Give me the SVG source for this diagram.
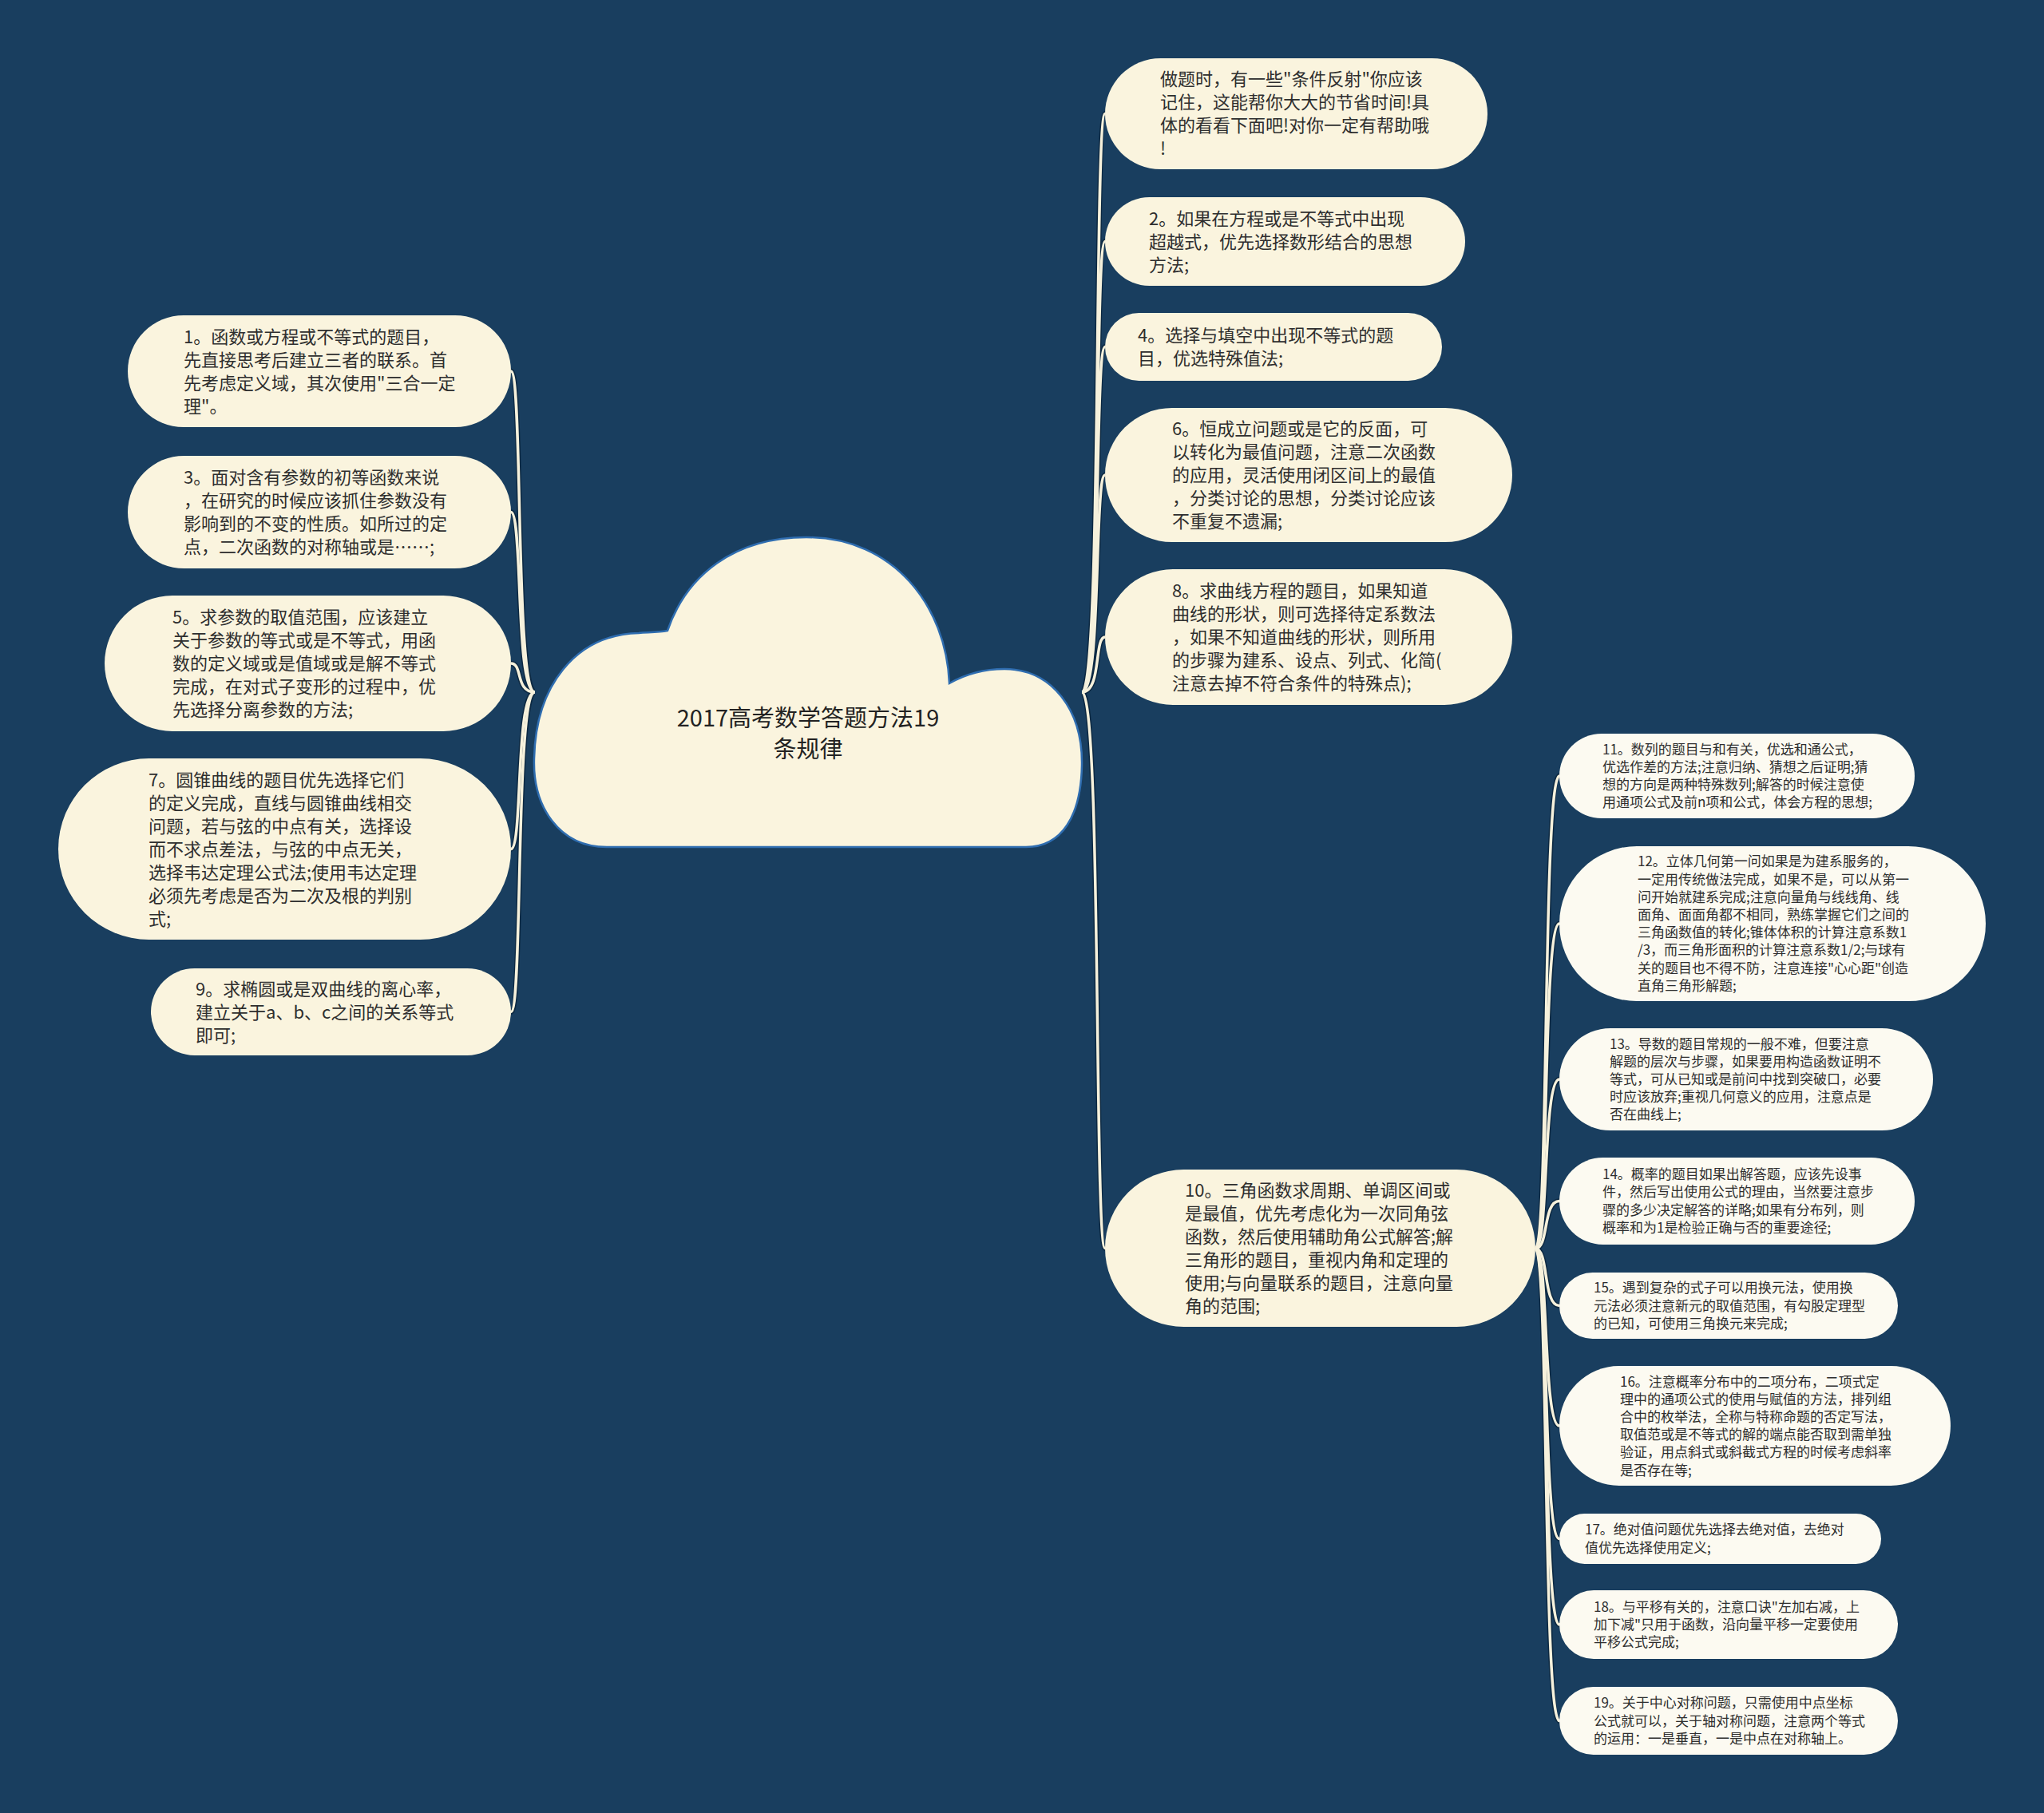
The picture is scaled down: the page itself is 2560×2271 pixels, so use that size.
<svg xmlns="http://www.w3.org/2000/svg" width="2560" height="2271" viewBox="0 0 2560 2271">
<style>
.bg{fill:#193e5f}
.n{fill:#faf4de}
.s{fill:#fcfaf1}
.t{font-family:"Noto Sans CJK SC","Noto Sans",sans-serif;font-size:22px;fill:#2e2e2e}
.ts{font-family:"Noto Sans CJK SC","Noto Sans",sans-serif;font-size:17px;fill:#2e2e2e}
.title{font-family:"Noto Sans CJK SC","Noto Sans",sans-serif;font-size:29px;fill:#222;text-anchor:middle}
.co{fill:none;stroke:#0d2942;stroke-width:6.5}
.ci{fill:none;stroke:#f6f1dc;stroke-width:3.5}
</style>
<rect class="bg" x="0" y="0" width="2560" height="2271"/>
<g id="connectors">
<g class="co">
<path d="M670 867C645 867 655 465 640 465"/>
<path d="M670 867C645 867 655 641.5 640 641.5"/>
<path d="M670 867C645 867 655 831 640 831"/>
<path d="M670 867C645 867 655 1063.5 640 1063.5"/>
<path d="M670 867C645 867 655 1267.5 640 1267.5"/>
<path d="M1355 867C1380 867 1370 142.5 1384 142.5"/>
<path d="M1355 867C1380 867 1370 302.5 1384 302.5"/>
<path d="M1355 867C1380 867 1370 434.5 1384 434.5"/>
<path d="M1355 867C1380 867 1370 595 1384 595"/>
<path d="M1355 867C1380 867 1370 798 1384 798"/>
<path d="M1355 867C1380 867 1370 1563.5 1384 1563.5"/>
<path d="M1923 1564C1940 1564 1932 972 1953 972"/>
<path d="M1923 1564C1940 1564 1932 1157 1953 1157"/>
<path d="M1923 1564C1940 1564 1932 1352 1953 1352"/>
<path d="M1923 1564C1940 1564 1932 1504.5 1953 1504.5"/>
<path d="M1923 1564C1940 1564 1932 1635.5 1953 1635.5"/>
<path d="M1923 1564C1940 1564 1932 1786 1953 1786"/>
<path d="M1923 1564C1940 1564 1932 1927.5 1953 1927.5"/>
<path d="M1923 1564C1940 1564 1932 2035 1953 2035"/>
<path d="M1923 1564C1940 1564 1932 2155.5 1953 2155.5"/>
</g>
<g class="ci">
<path d="M670 867C645 867 655 465 640 465"/>
<path d="M670 867C645 867 655 641.5 640 641.5"/>
<path d="M670 867C645 867 655 831 640 831"/>
<path d="M670 867C645 867 655 1063.5 640 1063.5"/>
<path d="M670 867C645 867 655 1267.5 640 1267.5"/>
<path d="M1355 867C1380 867 1370 142.5 1384 142.5"/>
<path d="M1355 867C1380 867 1370 302.5 1384 302.5"/>
<path d="M1355 867C1380 867 1370 434.5 1384 434.5"/>
<path d="M1355 867C1380 867 1370 595 1384 595"/>
<path d="M1355 867C1380 867 1370 798 1384 798"/>
<path d="M1355 867C1380 867 1370 1563.5 1384 1563.5"/>
<path d="M1923 1564C1940 1564 1932 972 1953 972"/>
<path d="M1923 1564C1940 1564 1932 1157 1953 1157"/>
<path d="M1923 1564C1940 1564 1932 1352 1953 1352"/>
<path d="M1923 1564C1940 1564 1932 1504.5 1953 1504.5"/>
<path d="M1923 1564C1940 1564 1932 1635.5 1953 1635.5"/>
<path d="M1923 1564C1940 1564 1932 1786 1953 1786"/>
<path d="M1923 1564C1940 1564 1932 1927.5 1953 1927.5"/>
<path d="M1923 1564C1940 1564 1932 2035 1953 2035"/>
<path d="M1923 1564C1940 1564 1932 2155.5 1953 2155.5"/>
</g>
</g>
<g id="root">
<path d="M760 1061C700 1061 667 1010 669 950C671 860 720 795 800 793C815 792 826 792 836 790C860 720 920 673 1010 673C1120 673 1185 760 1189 856C1210 844 1232 838 1258 838C1318 838 1356 890 1355 958C1354 1022 1330 1061 1285 1061Z" fill="#faf4de" stroke="#2f6db0" stroke-width="2.5"/>
<text class="title"><tspan x="1012" y="910">2017高考数学答题方法19</tspan><tspan x="1012" y="949">条规律</tspan></text>
</g>
<g id="n0">
<rect class="n" x="1384" y="73" width="479" height="139" rx="69.5"/>
<text class="t"><tspan x="1453" y="107">做题时，有一些"条件反射"你应该</tspan><tspan x="1453" y="136">记住，这能帮你大大的节省时间!具</tspan><tspan x="1453" y="165">体的看看下面吧!对你一定有帮助哦</tspan><tspan x="1453" y="194">!</tspan></text>
</g>
<g id="n2">
<rect class="n" x="1384" y="247" width="451" height="111" rx="55.5"/>
<text class="t"><tspan x="1439" y="281.5">2。如果在方程或是不等式中出现</tspan><tspan x="1439" y="310.5">超越式，优先选择数形结合的思想</tspan><tspan x="1439" y="339.5">方法;</tspan></text>
</g>
<g id="n4">
<rect class="n" x="1384" y="392" width="422" height="85" rx="42.5"/>
<text class="t"><tspan x="1425" y="428">4。选择与填空中出现不等式的题</tspan><tspan x="1425" y="457">目，优选特殊值法;</tspan></text>
</g>
<g id="n6">
<rect class="n" x="1384" y="511" width="510" height="168" rx="84"/>
<text class="t"><tspan x="1468" y="545">6。恒成立问题或是它的反面，可</tspan><tspan x="1468" y="574">以转化为最值问题，注意二次函数</tspan><tspan x="1468" y="603">的应用，灵活使用闭区间上的最值</tspan><tspan x="1468" y="632">，分类讨论的思想，分类讨论应该</tspan><tspan x="1468" y="661">不重复不遗漏;</tspan></text>
</g>
<g id="n8">
<rect class="n" x="1384" y="713" width="510" height="170" rx="85"/>
<text class="t"><tspan x="1468" y="748">8。求曲线方程的题目，如果知道</tspan><tspan x="1468" y="777">曲线的形状，则可选择待定系数法</tspan><tspan x="1468" y="806">，如果不知道曲线的形状，则所用</tspan><tspan x="1468" y="835">的步骤为建系、设点、列式、化简(</tspan><tspan x="1468" y="864">注意去掉不符合条件的特殊点);</tspan></text>
</g>
<g id="n10">
<rect class="n" x="1384" y="1465" width="539" height="197" rx="98.5"/>
<text class="t"><tspan x="1484" y="1499">10。三角函数求周期、单调区间或</tspan><tspan x="1484" y="1528">是最值，优先考虑化为一次同角弦</tspan><tspan x="1484" y="1557">函数，然后使用辅助角公式解答;解</tspan><tspan x="1484" y="1586">三角形的题目，重视内角和定理的</tspan><tspan x="1484" y="1615">使用;与向量联系的题目，注意向量</tspan><tspan x="1484" y="1644">角的范围;</tspan></text>
</g>
<g id="n1">
<rect class="n" x="160" y="395" width="480" height="140" rx="70"/>
<text class="t"><tspan x="230" y="430">1。函数或方程或不等式的题目，</tspan><tspan x="230" y="459">先直接思考后建立三者的联系。首</tspan><tspan x="230" y="488">先考虑定义域，其次使用"三合一定</tspan><tspan x="230" y="517">理"。</tspan></text>
</g>
<g id="n3">
<rect class="n" x="160" y="571" width="480" height="141" rx="70.5"/>
<text class="t"><tspan x="230" y="606">3。面对含有参数的初等函数来说</tspan><tspan x="230" y="635">，在研究的时候应该抓住参数没有</tspan><tspan x="230" y="664">影响到的不变的性质。如所过的定</tspan><tspan x="230" y="693">点，二次函数的对称轴或是……;</tspan></text>
</g>
<g id="n5">
<rect class="n" x="131" y="746" width="509" height="170" rx="85"/>
<text class="t"><tspan x="216" y="781">5。求参数的取值范围，应该建立</tspan><tspan x="216" y="810">关于参数的等式或是不等式，用函</tspan><tspan x="216" y="839">数的定义域或是值域或是解不等式</tspan><tspan x="216" y="868">完成，在对式子变形的过程中，优</tspan><tspan x="216" y="897">先选择分离参数的方法;</tspan></text>
</g>
<g id="n7">
<rect class="n" x="73" y="950" width="567" height="227" rx="113.5"/>
<text class="t"><tspan x="186" y="984.5">7。圆锥曲线的题目优先选择它们</tspan><tspan x="186" y="1013.5">的定义完成，直线与圆锥曲线相交</tspan><tspan x="186" y="1042.5">问题，若与弦的中点有关，选择设</tspan><tspan x="186" y="1071.5">而不求点差法，与弦的中点无关，</tspan><tspan x="186" y="1100.5">选择韦达定理公式法;使用韦达定理</tspan><tspan x="186" y="1129.5">必须先考虑是否为二次及根的判别</tspan><tspan x="186" y="1158.5">式;</tspan></text>
</g>
<g id="n9">
<rect class="n" x="189" y="1213" width="451" height="109" rx="54.5"/>
<text class="t"><tspan x="245" y="1246.5">9。求椭圆或是双曲线的离心率，</tspan><tspan x="245" y="1275.5">建立关于a、b、c之间的关系等式</tspan><tspan x="245" y="1304.5">即可;</tspan></text>
</g>
<g id="n11">
<rect class="s" x="1953" y="919" width="445" height="106" rx="53"/>
<text class="ts"><tspan x="2007" y="944.7">11。数列的题目与和有关，优选和通公式，</tspan><tspan x="2007" y="966.9">优选作差的方法;注意归纳、猜想之后证明;猜</tspan><tspan x="2007" y="989.1">想的方向是两种特殊数列;解答的时候注意使</tspan><tspan x="2007" y="1011.3">用通项公式及前n项和公式，体会方程的思想;</tspan></text>
</g>
<g id="n12">
<rect class="s" x="1953" y="1060" width="534" height="194" rx="97"/>
<text class="ts"><tspan x="2051" y="1085.3">12。立体几何第一问如果是为建系服务的，</tspan><tspan x="2051" y="1107.5">一定用传统做法完成，如果不是，可以从第一</tspan><tspan x="2051" y="1129.7">问开始就建系完成;注意向量角与线线角、线</tspan><tspan x="2051" y="1151.9">面角、面面角都不相同，熟练掌握它们之间的</tspan><tspan x="2051" y="1174.1">三角函数值的转化;锥体体积的计算注意系数1</tspan><tspan x="2051" y="1196.3">/3，而三角形面积的计算注意系数1/2;与球有</tspan><tspan x="2051" y="1218.5">关的题目也不得不防，注意连接"心心距"创造</tspan><tspan x="2051" y="1240.7">直角三角形解题;</tspan></text>
</g>
<g id="n13">
<rect class="s" x="1953" y="1288" width="468" height="128" rx="64"/>
<text class="ts"><tspan x="2016" y="1313.6">13。导数的题目常规的一般不难，但要注意</tspan><tspan x="2016" y="1335.8">解题的层次与步骤，如果要用构造函数证明不</tspan><tspan x="2016" y="1358">等式，可从已知或是前问中找到突破口，必要</tspan><tspan x="2016" y="1380.2">时应该放弃;重视几何意义的应用，注意点是</tspan><tspan x="2016" y="1402.4">否在曲线上;</tspan></text>
</g>
<g id="n14">
<rect class="s" x="1953" y="1450" width="445" height="109" rx="54.5"/>
<text class="ts"><tspan x="2007" y="1477.2">14。概率的题目如果出解答题，应该先设事</tspan><tspan x="2007" y="1499.4">件，然后写出使用公式的理由，当然要注意步</tspan><tspan x="2007" y="1521.6">骤的多少决定解答的详略;如果有分布列，则</tspan><tspan x="2007" y="1543.8">概率和为1是检验正确与否的重要途径;</tspan></text>
</g>
<g id="n15">
<rect class="s" x="1953" y="1594" width="424" height="83" rx="41.5"/>
<text class="ts"><tspan x="1996" y="1619.3">15。遇到复杂的式子可以用换元法，使用换</tspan><tspan x="1996" y="1641.5">元法必须注意新元的取值范围，有勾股定理型</tspan><tspan x="1996" y="1663.7">的已知，可使用三角换元来完成;</tspan></text>
</g>
<g id="n16">
<rect class="s" x="1953" y="1711" width="490" height="150" rx="75"/>
<text class="ts"><tspan x="2029" y="1736.5">16。注意概率分布中的二项分布，二项式定</tspan><tspan x="2029" y="1758.7">理中的通项公式的使用与赋值的方法，排列组</tspan><tspan x="2029" y="1780.9">合中的枚举法，全称与特称命题的否定写法，</tspan><tspan x="2029" y="1803.1">取值范或是不等式的解的端点能否取到需单独</tspan><tspan x="2029" y="1825.3">验证，用点斜式或斜截式方程的时候考虑斜率</tspan><tspan x="2029" y="1847.5">是否存在等;</tspan></text>
</g>
<g id="n17">
<rect class="s" x="1953" y="1896" width="403" height="63" rx="31.5"/>
<text class="ts"><tspan x="1985" y="1922.4">17。绝对值问题优先选择去绝对值，去绝对</tspan><tspan x="1985" y="1944.6">值优先选择使用定义;</tspan></text>
</g>
<g id="n18">
<rect class="s" x="1953" y="1992" width="424" height="86" rx="43"/>
<text class="ts"><tspan x="1996" y="2018.8">18。与平移有关的，注意口诀"左加右减，上</tspan><tspan x="1996" y="2041">加下减"只用于函数，沿向量平移一定要使用</tspan><tspan x="1996" y="2063.2">平移公式完成;</tspan></text>
</g>
<g id="n19">
<rect class="s" x="1953" y="2113" width="424" height="85" rx="42.5"/>
<text class="ts"><tspan x="1996" y="2139.3">19。关于中心对称问题，只需使用中点坐标</tspan><tspan x="1996" y="2161.5">公式就可以，关于轴对称问题，注意两个等式</tspan><tspan x="1996" y="2183.7">的运用：一是垂直，一是中点在对称轴上。</tspan></text>
</g>
</svg>
